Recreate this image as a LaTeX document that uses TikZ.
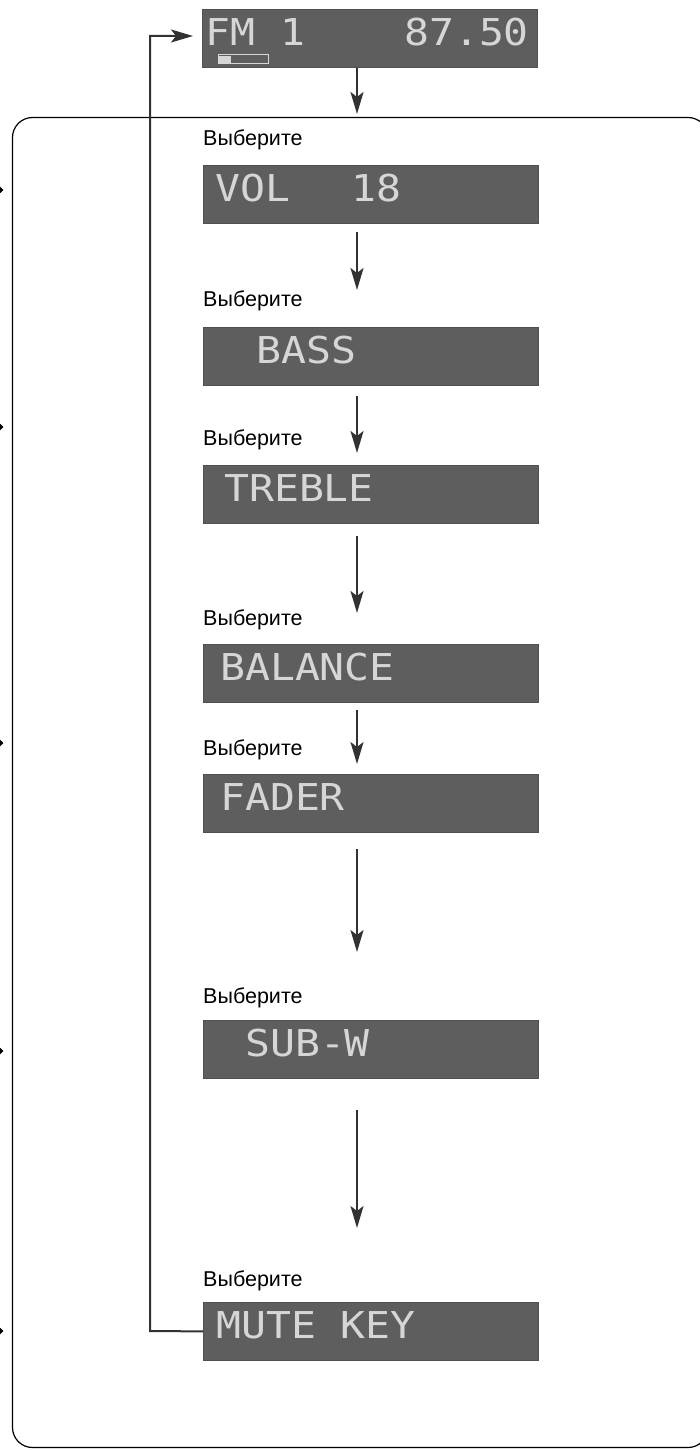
\documentclass[tikz,border=0pt]{standalone}
\usepackage{fontspec}
\setmainfont{Liberation Sans}
\newfontfamily\lcdfont[FakeStretch=1.12]{DejaVu Sans Mono}
\usetikzlibrary{arrows.meta}
\definecolor{lcdbg}{RGB}{94,94,94}
\definecolor{lcdedge}{RGB}{80,80,80}
\definecolor{lcdtxt}{RGB}{214,214,214}
\definecolor{linecol}{RGB}{50,50,50}
\begin{document}
\begin{tikzpicture}[x=1pt,y=-1pt,
  lcd/.style={fill=lcdbg, draw=lcdedge, line width=0.8pt, minimum width=335pt, minimum height=58pt, inner sep=0pt, anchor=north west},
  lcdtext/.style={text=lcdtxt, font=\lcdfont\fontsize{37}{37}\selectfont, anchor=base west, inner sep=0pt},
  lbl/.style={font=\fontsize{21.5}{22}\selectfont, anchor=base west, inner sep=0pt},
  flow/.style={draw=linecol, line width=2pt, -{Stealth[length=22pt,width=13pt,inset=5pt]}},
  sidetip/.style={draw=black, line width=1.2pt, -{Triangle[length=5pt,width=9pt]}},
  frame/.style={draw=black, line width=1.2pt, rounded corners=20pt}]
\useasboundingbox (0,0) rectangle (700,1450);
% frame
\draw[frame] (12.5,117.5) rectangle (708,1447.5);
% side arrow tips
\foreach \k/\yy in {1/190,2/427,3/743,4/1051,5/1331}{
  \coordinate (ls\k) at (-20,\yy);
  \coordinate (le\k) at (3.5,\yy);
  \draw[sidetip] (ls\k) -- (le\k);
}
% displays
\node[lcd] (fm) at (202,9) {};
\node[lcd] (vol) at (203,165) {};
\node[lcd] (bass) at (203,327) {};
\node[lcd] (treble) at (203,465) {};
\node[lcd] (balance) at (203,644) {};
\node[lcd] (fader) at (203,774) {};
\node[lcd] (subw) at (203,1020) {};
\node[lcd] (mute) at (203,1302) {};
% display texts
\node[lcdtext] (fmtxt) at (205,46) {FM 1};
\node[lcdtext] (freq) at (404,46) {87.50};
\draw[lcdtxt, line width=1pt] (218,55) rectangle (268,64);
\fill[lcdtxt] (219,56) rectangle (231,63);
\node[lcdtext] (voltxt) at (215,201) {VOL};
\node[lcdtext] (volnum) at (351,201) {18};
\node[lcdtext] (basstxt) at (256,363) {BASS};
\node[lcdtext] (trebletxt) at (224,501) {TREBLE};
\node[lcdtext] (balancetxt) at (220,680) {BALANCE};
\node[lcdtext] (fadertxt) at (220,810) {FADER};
\node[lcdtext] (subwtxt) at (245,1056) {SUB-W};
\node[lcdtext] (mutetxt) at (216,1338) {MUTE KEY};
% labels
\node[lbl] (l1) at (203,146) {Выберите};
\node[lbl] (l2) at (203,306) {Выберите};
\node[lbl] (l3) at (203,445) {Выберите};
\node[lbl] (l4) at (203,625) {Выберите};
\node[lbl] (l5) at (203,755) {Выберите};
\node[lbl] (l6) at (203,1003) {Выберите};
\node[lbl] (l7) at (203,1286) {Выберите};
% flow arrows
\coordinate (a0s) at (357,68);   \coordinate (a0e) at (357,114);
\coordinate (a1s) at (357,232);  \coordinate (a1e) at (357,290);
\coordinate (a2s) at (357,396);  \coordinate (a2e) at (357,453);
\coordinate (a3s) at (357,536);  \coordinate (a3e) at (357,613);
\coordinate (a4s) at (357,710);  \coordinate (a4e) at (357,764);
\coordinate (a5s) at (357,849);  \coordinate (a5e) at (357,952);
\coordinate (a6s) at (357,1110); \coordinate (a6e) at (357,1228);
\foreach \i in {0,...,6}{\draw[flow] (a\i s) -- (a\i e);}
% feedback
\coordinate (fb1) at (150,1331);
\coordinate (fb2) at (150,36);
\coordinate (fb3) at (193,36);
\draw[flow] (mute.west) -- (fb1) -- (fb2) -- (fb3);
\end{tikzpicture}
\end{document}
